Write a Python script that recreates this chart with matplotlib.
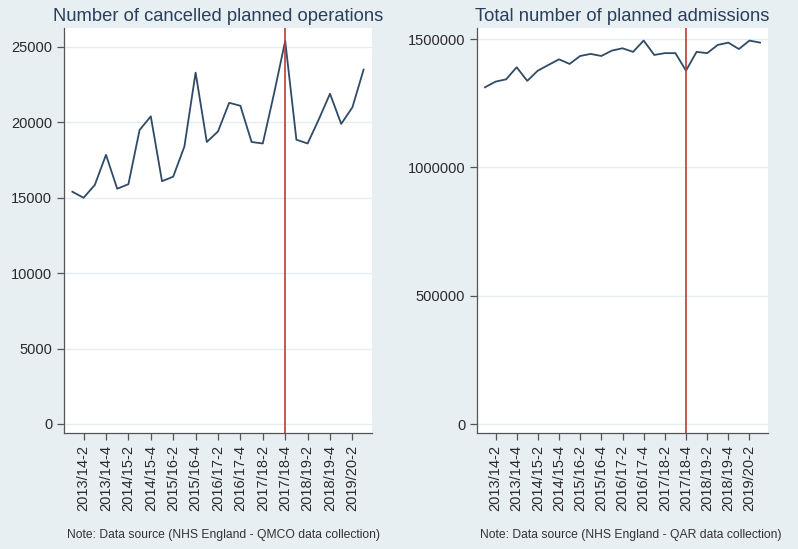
import matplotlib.pyplot as plt
import numpy as np

plt.rcParams['font.family'] = ['Liberation Sans', 'DejaVu Sans']

# quarters 2013/14-1 .. 2019/20-3
quarters = [f"{y}/{(y + 1) % 100:02d}-{q}" for y in range(2013, 2020) for q in range(1, 5)][:27]
tick_labels = quarters[1::2]

cancelled = [15400, 15000, 15850, 17850, 15600, 15900, 19500, 20400, 16100, 16400,
             18400, 23300, 18700, 19400, 21300, 21100, 18700, 18600, 21900, 25400,
             18850, 18600, 20200, 21900, 19900, 21000, 23500]
admissions = [1312000, 1334000, 1343000, 1390000, 1337000, 1377000, 1399000, 1421000,
              1403000, 1434000, 1442000, 1434000, 1455000, 1464000, 1450000, 1494000,
              1438000, 1445000, 1445000, 1377000, 1450000, 1445000, 1477000, 1486000,
              1461000, 1494000, 1486000]
marker_q = "2017/18-4"

bg = '#e7eff2'
navy = '#2f4b68'
title_c = '#2a3f5c'
grid_c = '#e3eef1'
red = '#c0393a'

W, H = 798, 549
fig = plt.figure(figsize=(W / 100, H / 100), dpi=100, facecolor=bg)


def panel(x0, x1, vals, yticks, ylim, title, note):
    ax = fig.add_axes([x0 / W, (H - 433) / H, (x1 - x0) / W, (433 - 28) / H])
    ax.set_facecolor('white')
    x = np.arange(len(vals))
    ax.plot(x, vals, color=navy, lw=1.3)
    ax.axvline(quarters.index(marker_q), color=red, lw=1.2)
    ax.set_xlim(-0.75, len(vals) - 0.25)
    ax.set_ylim(*ylim)
    ax.set_yticks(yticks)
    ax.set_yticklabels([str(v) for v in yticks])
    ax.set_xticks(x[1::2])
    ax.set_xticklabels(tick_labels, rotation=90)
    ax.yaxis.grid(True, color=grid_c, lw=1)
    ax.set_axisbelow(True)
    for s in ['top', 'right']:
        ax.spines[s].set_visible(False)
    for s in ['left', 'bottom']:
        ax.spines[s].set_color('#555555')
        ax.spines[s].set_linewidth(0.9)
    ax.tick_params(length=5, width=0.9, color='#555555', labelsize=10.5, labelcolor='#2a2a2a')
    ax.set_title(title, color=title_c, fontsize=13.2, pad=5)
    fig.text((x0 + 3) / W, 1 - 535 / H, note, fontsize=8.75, color='#333333', ha='left', va='center')
    return ax


panel(64, 372, cancelled, [0, 5000, 10000, 15000, 20000, 25000], (-600, 26260),
      'Number of cancelled planned operations',
      'Note: Data source (NHS England - QMCO data collection)')
panel(477, 768, admissions, [0, 500000, 1000000, 1500000], (-35000, 1543000),
      'Total number of planned admissions',
      'Note: Data source (NHS England - QAR data collection)')

fig.savefig('out.png', dpi=100, facecolor=bg)
